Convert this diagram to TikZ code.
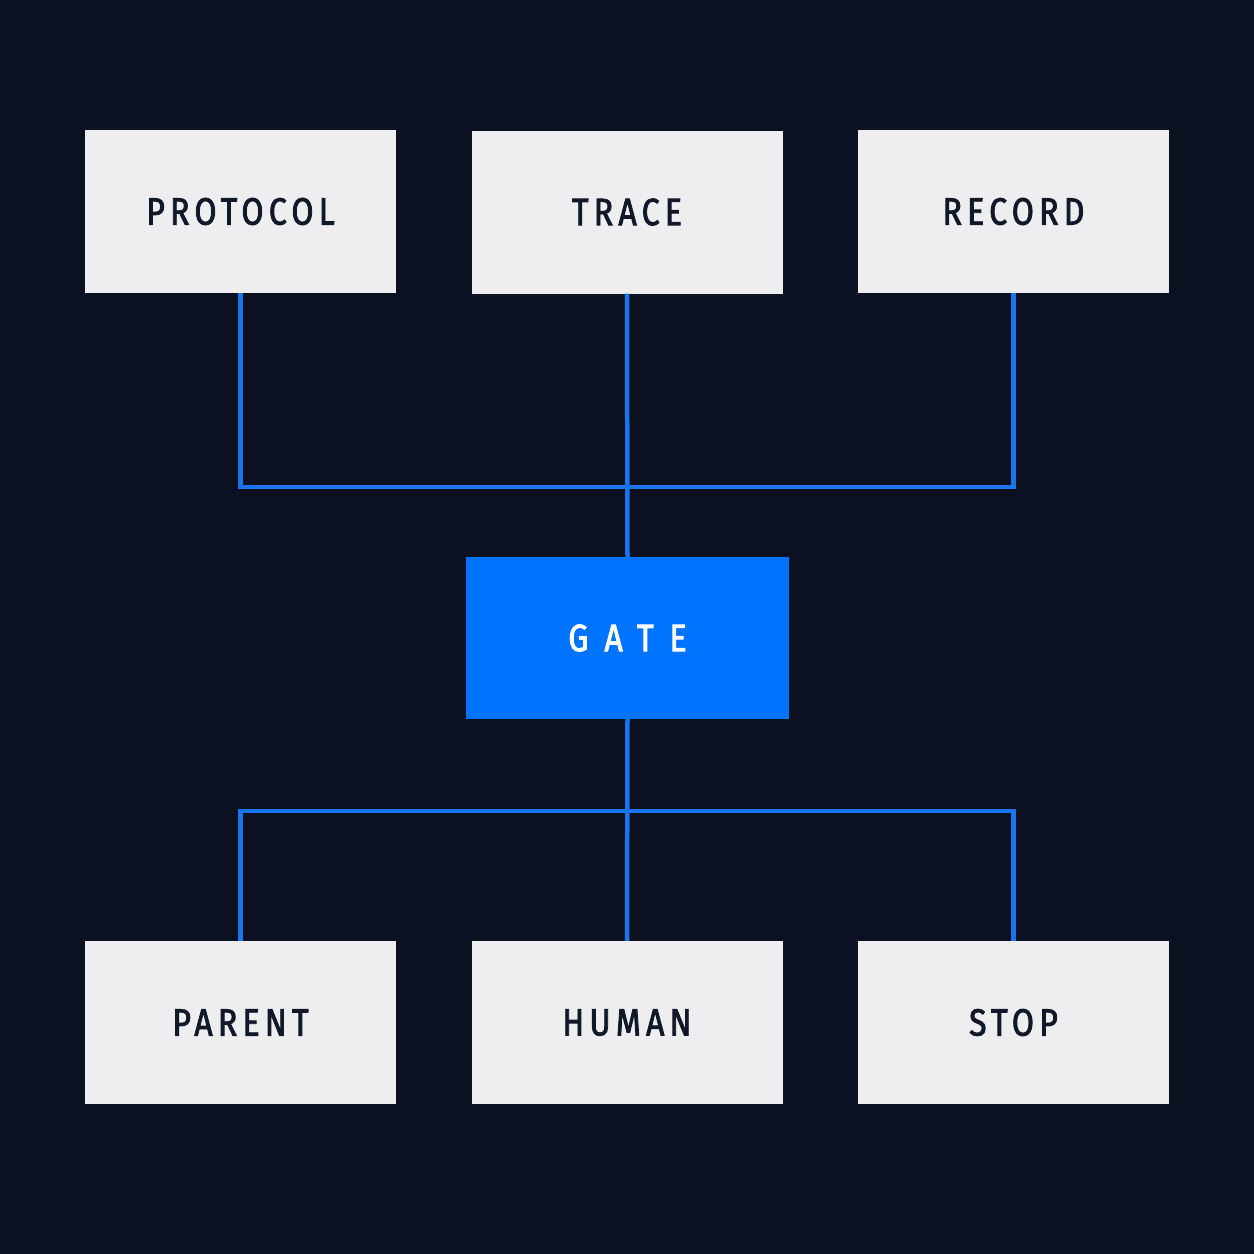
\documentclass[tikz,border=0pt]{standalone}
\usepackage{fontspec}
\setmainfont{Fira Sans}[FakeStretch=0.84, LetterSpace=14, FakeBold=2.2]
\newfontfamily\gatefont{Fira Sans}[FakeStretch=0.84, LetterSpace=42, FakeBold=2.2]
\definecolor{bg}{HTML}{0B1120}
\definecolor{boxfill}{HTML}{EEEEF0}
\definecolor{ink}{HTML}{111827}
\definecolor{wire}{HTML}{1A74EE}
\definecolor{gateblue}{HTML}{0073FF}
\begin{document}
\begin{tikzpicture}[x=1pt,y=-1pt,
  card/.style={rectangle, draw=none, fill=boxfill, minimum width=311pt, minimum height=163pt, inner sep=0pt, text=ink, font=\fontsize{38}{40}\selectfont},
  gatebox/.style={rectangle, draw=none, fill=gateblue, minimum width=323pt, minimum height=162pt, inner sep=0pt, text=white, font=\gatefont\fontsize{38}{40}\selectfont},
  wireline/.style={draw=wire, line width=4.5pt, line join=miter}]
\fill[bg] (0,0) rectangle (1254,1254);
\useasboundingbox (0,0) rectangle (1254,1254);
\node[card] (protocol) at (240.5,211.5) {PROTOCOL};
\node[card] (trace) at (627,212) {TRACE};
\node[card] (record) at (1013.5,211.5) {RECORD};
\node[gatebox] (gate) at (627.5,638) {GATE};
\node[card] (parent) at (240.5,1022.5) {PARENT};
\node[card] (human) at (627,1022.5) {HUMAN};
\node[card] (stop) at (1013.5,1022.5) {STOP};
\coordinate (jt) at (627,487);
\coordinate (jb) at (627,811);
\draw[wireline] (protocol.south) |- (jt) -| (record.south);
\draw[wireline] (trace.south) -- (gate.north);
\draw[wireline] (gate.south) -- (human.north);
\draw[wireline] (parent.north) |- (jb) -| (stop.north);
\end{tikzpicture}
\end{document}
